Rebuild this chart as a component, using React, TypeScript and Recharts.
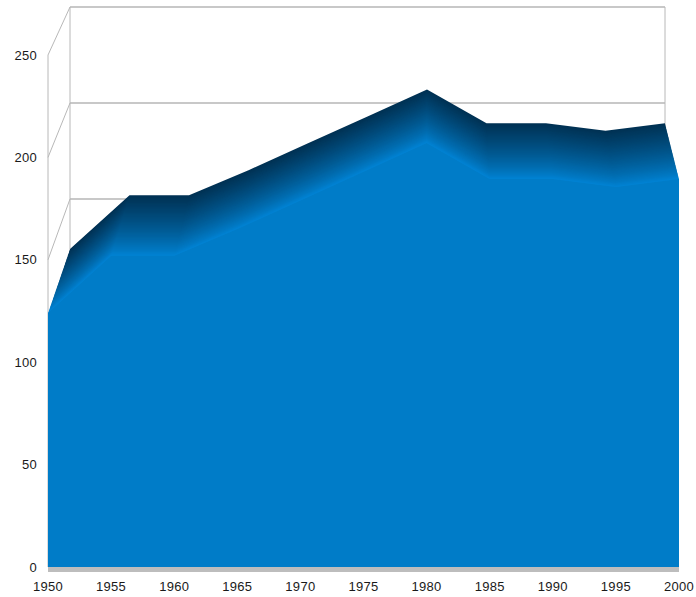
import React from "react";
import { ComposedChart, Area, XAxis, YAxis, ReferenceLine, ReferenceArea } from "recharts";

const years = [1950, 1955, 1960, 1965, 1970, 1975, 1980, 1985, 1990, 1995, 2000];
const values = [124, 152, 152, 165, 179, 193, 207, 189.5, 189.5, 185.5, 189.5];
const yTicks = [0, 50, 100, 150, 200, 250];
const xTicks = [1950, 1955, 1960, 1965, 1970, 1975, 1980, 1985, 1990, 1995, 2000];

const W = 696;
const H = 597;
const VALUE_MAX = 273.44;
const FLOOR = -2.44;
const GRID = "#b8b8b8";
const SLICES = 48;
const TICK_STYLE = { fontFamily: "Liberation Sans", fontSize: 13, fill: "#1a1a1a", letterSpacing: 0.3 };

// depth 0 = front plane, depth 1 = back wall of the 3D box
const projectX = (year: number, d: number) => {
  const f = (year - 1950) / 50;
  const back = (22 + (595 * f)) / 631;
  return 1950 + 50 * (f + (back - f) * d);
};
const projectY = (v: number, d: number) => v + (0.9375 * v + 39.0625 - v) * d;

const sliceData = (d: number) =>
  years.map((y, i) => ({ x: projectX(y, d), v: projectY(values[i], d) }));

const mix = (a: number[], b: number[], t: number) => {
  const c = a.map((n, i) => Math.round(n + (b[i] - n) * t));
  return `rgb(${c[0]},${c[1]},${c[2]})`;
};
const FRONT_EDGE = [0, 134, 216];
const BACK_EDGE = [0, 50, 84];

const slices = Array.from({ length: SLICES + 1 }, (_, i) => 1 - i / SLICES);

const seg = (y0: number, v0: number, d0: number, y1: number, v1: number, d1: number) => [
  { x: projectX(y0, d0), y: projectY(v0, d0) },
  { x: projectX(y1, d1), y: projectY(v1, d1) },
];

const wall: any = { stroke: GRID, zIndex: -50 };
const band: any = { stroke: "#c8c8c8", strokeWidth: 2, zIndex: -50 };

export default function App() {
  const frontData = sliceData(0);
  return (
    <div style={{ position: "absolute", left: 0, top: 0, width: W, height: H }}>
      <ComposedChart
        width={W}
        height={H}
        data={frontData}
        margin={{ top: 7, right: 17, bottom: 0, left: 0 }}
      >
        <XAxis
          type="number"
          dataKey="x"
          domain={[1950, 2000]}
          ticks={xTicks}
          interval={0}
          allowDataOverflow
          axisLine={false}
          tickLine={false}
          height={25}
          tickMargin={4}
          tick={TICK_STYLE}
        />
        <YAxis
          type="number"
          domain={[FLOOR, VALUE_MAX]}
          ticks={yTicks}
          interval={0}
          allowDataOverflow
          axisLine={false}
          tickLine={false}
          width={48}
          tickMargin={5}
          tick={TICK_STYLE}
        />
        {/* back wall */}
        <ReferenceLine segment={seg(1950, 250, 1, 2000, 250, 1)} {...band} />
        <ReferenceLine segment={seg(1950, 200, 1, 2000, 200, 1)} {...band} />
        <ReferenceLine segment={seg(1950, 150, 1, 2000, 150, 1)} {...band} />
        <ReferenceLine segment={seg(1950, 0, 1, 1950, 250, 1)} {...wall} />
        <ReferenceLine segment={seg(2000, 0, 1, 2000, 250, 1)} {...wall} />
        {/* side wall */}
        <ReferenceLine segment={seg(1950, 0, 0, 1950, 250, 0)} {...wall} />
        <ReferenceLine segment={seg(1950, 250, 0, 1950, 250, 1)} {...wall} />
        <ReferenceLine segment={seg(1950, 200, 0, 1950, 200, 1)} {...wall} />
        <ReferenceLine segment={seg(1950, 150, 0, 1950, 150, 1)} {...wall} />
        {/* extruded surface, painted from back to front */}
        {slices.map((d) => (
          <Area
            key={d}
            data={sliceData(d)}
            dataKey="v"
            type="linear"
            fill={mix(FRONT_EDGE, BACK_EDGE, Math.pow(d, 0.8))}
            fillOpacity={1}
            stroke="none"
            isAnimationActive={false}
            dot={false}
            activeDot={false}
          />
        ))}
        {/* front face */}
        <Area
          data={frontData}
          dataKey="v"
          type="linear"
          fill="#007cc8"
          fillOpacity={1}
          stroke="none"
          isAnimationActive={false}
          dot={false}
          activeDot={false}
        />
        <ReferenceArea x1={1950} x2={2000} y1={FLOOR} y2={0} fill="#bdbdbd" fillOpacity={1} stroke="none" />
      </ComposedChart>
    </div>
  );
}
